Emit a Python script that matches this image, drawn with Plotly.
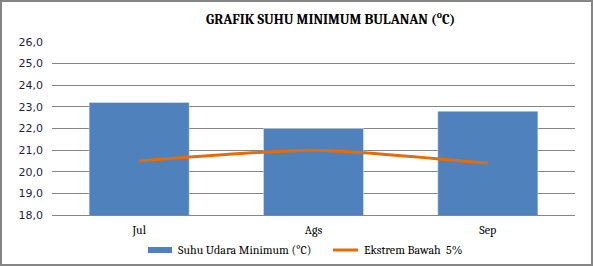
import plotly.graph_objects as go

months = ["Jul", "Ags", "Sep"]
suhu_min = [23.2, 22.0, 22.8]
ekstrem_bawah = [20.5, 21.0, 20.4]
y_ticks = [18, 19, 20, 21, 22, 23, 24, 25, 26]

W, H = 593, 266
L, R, T, B = 52, 18, 42, 51
pw, ph = W - L - R, H - T - B

def px(x):
    return (x - L) / pw

def py(y):
    return (H - B - y) / ph

fig = go.Figure()
fig.add_trace(go.Bar(x=months, y=suhu_min, marker_color="#4F81BD",
                     name="Suhu Udara Minimum (°C)", showlegend=False))
fig.add_trace(go.Scatter(x=months, y=ekstrem_bawah, mode="lines",
                         line=dict(color="#E46C0A", width=3, shape="spline", smoothing=0.6),
                         name="Ekstrem Bawah  5%", showlegend=False))

serif = "Cambria, 'Liberation Serif', 'DejaVu Serif', serif"

shapes = [
    dict(type="rect", xref="paper", yref="paper", x0=px(1), x1=px(592), y0=py(265), y1=py(1),
         line=dict(color="#868686", width=2), fillcolor="rgba(0,0,0,0)", layer="below"),
    dict(type="rect", xref="paper", yref="paper", x0=px(148), x1=px(172), y0=py(253), y1=py(247),
         line=dict(width=0), fillcolor="#4F81BD"),
    dict(type="line", xref="paper", yref="paper", x0=px(333), x1=px(358), y0=py(250), y1=py(250),
         line=dict(color="#E46C0A", width=3)),
]

annotations = [
    dict(text="<b>GRAFIK SUHU MINIMUM BULANAN (<sup>o</sup>C)</b>", xref="paper", yref="paper",
         x=px(330), y=py(18), showarrow=False, xanchor="center", yanchor="middle",
         font=dict(family=serif, size=14, color="#000000")),
    dict(text="Suhu Udara Minimum (°C)", xref="paper", yref="paper", x=px(176), y=py(250),
         showarrow=False, xanchor="left", yanchor="middle",
         font=dict(family=serif, size=12, color="#000000")),
    dict(text="Ekstrem Bawah  5%", xref="paper", yref="paper", x=px(362), y=py(250),
         showarrow=False, xanchor="left", yanchor="middle",
         font=dict(family=serif, size=12, color="#000000")),
]

fig.update_layout(
    width=W, height=H, margin=dict(l=L, r=R, t=T, b=B),
    paper_bgcolor="white", plot_bgcolor="white",
    separators=",.",
    bargap=0.426,
    shapes=shapes, annotations=annotations,
    xaxis=dict(showgrid=False, showline=True, linecolor="#868686", linewidth=1,
               ticks="", tickfont=dict(family=serif, size=12, color="#000000"),
               ticklabelstandoff=4),
    yaxis=dict(range=[18, 26], tickvals=y_ticks, tickformat=".1f",
               showgrid=True, gridcolor="#868686", gridwidth=1,
               zeroline=False, showline=False, ticks="",
               tickfont=dict(family="Tahoma, 'DejaVu Sans', Verdana, sans-serif", size=11, color="#1F1F3F"),
               ticklabelstandoff=8),
)

fig.write_html("out.html")
